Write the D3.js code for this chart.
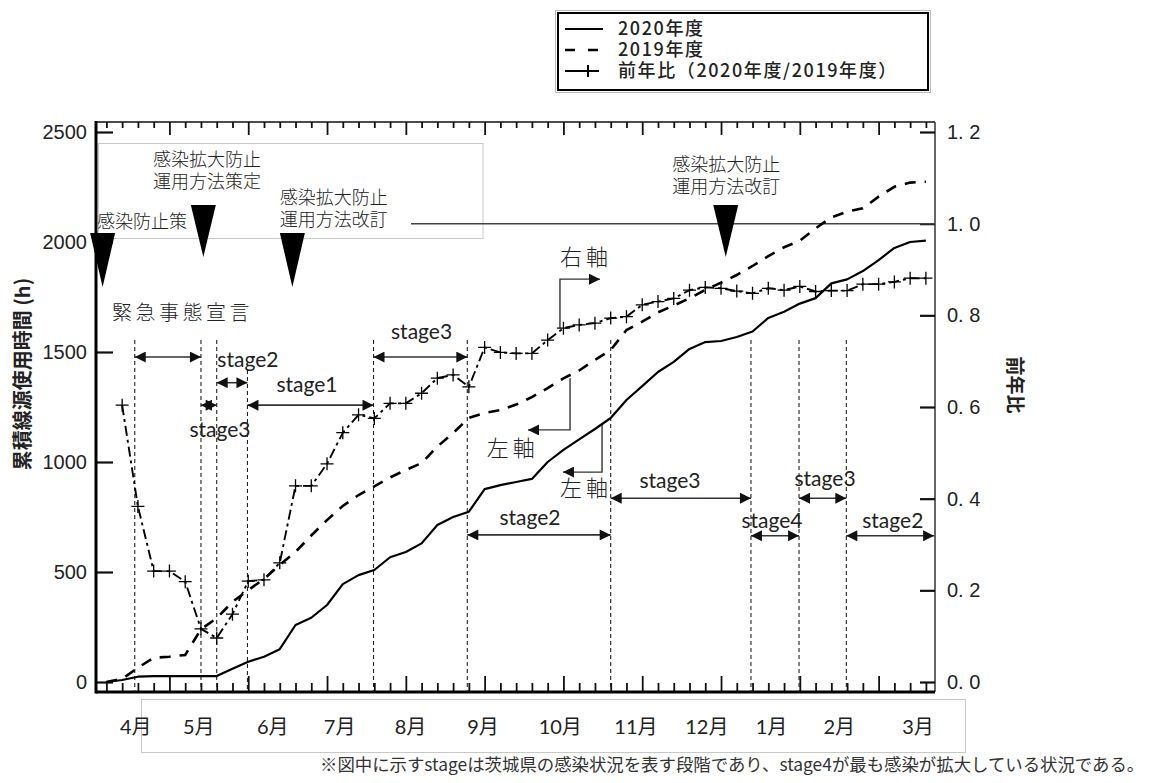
<!DOCTYPE html>
<html><head><meta charset="utf-8">
<script src="https://cdn.jsdelivr.net/npm/d3@7"></script>
<style>
body{margin:0;background:#fff;}
svg{display:block;}
text{font-family:"Noto Sans CJK JP","Noto Sans",sans-serif;fill:#222;}
</style></head><body>
<svg id="c" width="1164" height="783"></svg>
<script>
// ---------------- data ----------------
const weeks = d3.range(0, 53); // week index from April 1st week
const fy2020 = [0, 9, 24, 27, 27, 27, 27, 27, 60, 92, 115, 149, 259, 292, 350, 445, 486, 509, 567, 591,
  630, 714, 750, 774, 877, 895, 909, 923, 1000, 1055, 1103, 1150, 1200, 1282, 1345, 1409, 1455, 1514,
  1545, 1550, 1568, 1593, 1655, 1683, 1720, 1745, 1812, 1830, 1868, 1918, 1973, 2000, 2006];
const fy2019 = [0, 14, 65, 110, 115, 123, 240, 290, 364, 418, 468, 532, 591, 666, 736, 800, 850, 889, 930,
  964, 995, 1070, 1132, 1200, 1223, 1236, 1261, 1295, 1336, 1380, 1416, 1464, 1509, 1600, 1638, 1680,
  1711, 1744, 1782, 1815, 1850, 1891, 1936, 1976, 2006, 2062, 2112, 2138, 2153, 2206, 2251, 2270, 2274];
const ratio = [null, 0.604, 0.383, 0.242, 0.242, 0.219, 0.116, 0.096, 0.148, 0.220, 0.223, 0.260, 0.428,
  0.428, 0.476, 0.544, 0.583, 0.575, 0.608, 0.608, 0.630, 0.663, 0.670, 0.644, 0.730, 0.719, 0.717, 0.717,
  0.746, 0.772, 0.779, 0.783, 0.794, 0.797, 0.823, 0.830, 0.837, 0.855, 0.861, 0.859, 0.853, 0.848, 0.859,
  0.855, 0.863, 0.852, 0.854, 0.854, 0.868, 0.868, 0.873, 0.881, 0.881];

const leftTicks = [0, 500, 1000, 1500, 2000, 2500];
const rightTicks = [0, 0.2, 0.4, 0.6, 0.8, 1.0, 1.2];
const monthLabels = ['4月', '5月', '6月', '7月', '8月', '9月', '10月', '11月', '12月', '1月', '2月', '3月'];
const monthWeeks = [1.86, 5.86, 10.56, 14.8, 19.3, 23.9, 28.8, 33.6, 38.1, 42.2, 46.5, 51.5];

const stageBounds = [1.8, 6, 7, 8.95, 16.95, 22.9, 32, 40.9, 43.95, 46.95];
const stageLineTop = [0.746, 0.746, 0.746, 0.681, 0.746, 0.746, 0.746, 0.746, 0.746, 0.746];
const stageNames = ['', 'stage2', 'stage3', 'stage1', 'stage3', 'stage2', 'stage3', 'stage4', 'stage3', 'stage2'];
const stageFrom  = [1.8, 7, 6, 8.95, 16.95, 22.9, 32, 40.9, 43.95, 46.95];
const stageTo    = [6, 8.95, 7, 16.95, 22.9, 32, 40.9, 43.95, 46.95, 52.52];
const stageLevel = [0.709, 0.653, 0.604, 0.604, 0.709, 0.321, 0.401, 0.319, 0.401, 0.319];
const stageLabelWeek  = [0, 8.98, 7.21, 12.73, 20.0, 26.88, 35.76, 42.23, 45.6, 49.9];
const stageLabelLevel = [0, 0.703, 0.550, 0.648, 0.764, 0.358, 0.439, 0.353, 0.443, 0.351];

const eventWeek = [-0.24, 6.15, 11.8, 39.3];
const eventTip = [1795, 1932, 1795, 1932];
const eventTop = [2041, 2168, 2041, 2168];
const eventText = [['感染防止策'], ['感染拡大防止', '運用方法策定'], ['感染拡大防止', '運用方法改訂'], ['感染拡大防止', '運用方法改訂']];
const eventTextWeek = [-0.59, 2.96, 11.0, 35.9];
const eventTextLevel = [2091, 2373, 2200, 2350];

const legendLabels = ['2020年度', '2019年度', '前年比（2020年度/2019年度）'];

// ---------------- scales ----------------
const svg = d3.select('#c');
const L = 96, R = 935, T = 122, B = 692;
const x = d3.scaleLinear().domain([0, 52]).range([106.4, 925.9]);
const yL = d3.scaleLinear().domain([0, 2500]).range([682, 132]);
const yR = d3.scaleLinear().domain([0, 1.2]).range([682, 132]);

const defs = svg.append('defs');
defs.append('marker').attr('id', 'ah').attr('viewBox', '0 0 10 10').attr('refX', 10).attr('refY', 5)
  .attr('markerWidth', 12).attr('markerHeight', 11).attr('markerUnits', 'userSpaceOnUse')
  .attr('orient', 'auto-start-reverse')
  .append('path').attr('d', 'M0,0L10,5L0,10Z').attr('fill', '#111');

// ---------------- decorative boxes ----------------
svg.append('rect').attr('x', 98.5).attr('y', 143.5).attr('width', 384.5).attr('height', 95)
  .attr('fill', 'none').attr('stroke', '#c8c8c8').attr('stroke-width', 1);
svg.append('rect').attr('x', 141.5).attr('y', 699.5).attr('width', 824).attr('height', 53)
  .attr('fill', 'none').attr('stroke', '#c8c8c8').attr('stroke-width', 1);

// ---------------- legend ----------------
const lg = svg.append('g');
lg.append('rect').attr('x', 555.5).attr('y', 10.5).attr('width', 375).attr('height', 82)
  .attr('fill', 'none').attr('stroke', '#bbb').attr('stroke-width', 1);
lg.append('rect').attr('x', 558).attr('y', 13).attr('width', 370).attr('height', 77)
  .attr('fill', '#fff').attr('stroke', '#000').attr('stroke-width', 2);
const legY = [29, 50, 71];
lg.append('line').attr('x1', 565).attr('x2', 603).attr('y1', legY[0]).attr('y2', legY[0]).attr('stroke', '#000').attr('stroke-width', 2);
lg.append('line').attr('x1', 565).attr('x2', 600).attr('y1', legY[1]).attr('y2', legY[1]).attr('stroke', '#000').attr('stroke-width', 2.5).attr('stroke-dasharray', '10,13');
lg.append('path').attr('d', `M565,${legY[2]}H583M588,${legY[2]-6}V${legY[2]+6}M582,${legY[2]}H594M594,${legY[2]}H599`)
  .attr('stroke', '#000').attr('stroke-width', 2).attr('fill', 'none');
lg.selectAll('text.leg').data(legendLabels).join('text').attr('class', 'leg')
  .attr('x', 618).attr('y', (d, i) => legY[i]).attr('dy', '0.36em')
  .style('font-size', '18px').style('letter-spacing', '1.6px').style('font-weight', 500).text(d => d);

// ---------------- frame & axes ----------------
svg.append('line').attr('x1', L).attr('x2', R).attr('y1', T).attr('y2', T).attr('stroke', '#111').attr('stroke-width', 1.5);
svg.append('line').attr('x1', R).attr('x2', R).attr('y1', T).attr('y2', B).attr('stroke', '#333').attr('stroke-width', 1.5);

const minorW = weeks.filter(k => (k - 4) % 5 !== 0);
const majorW = weeks.filter(k => (k - 4) % 5 === 0);
function tickAxis(axis, y) {
  const g = svg.append('g').attr('transform', `translate(0,${y})`).call(axis);
  g.select('.domain').remove();
  g.selectAll('line').attr('stroke', '#111').attr('stroke-width', 1.8);
  g.selectAll('text').remove();
  return g;
}
tickAxis(d3.axisBottom(x).tickValues(minorW).tickSizeInner(-9).tickSizeOuter(0), B);
tickAxis(d3.axisBottom(x).tickValues(majorW).tickSizeInner(-16).tickSizeOuter(0), B);
tickAxis(d3.axisTop(x).tickValues(minorW).tickSizeInner(-6).tickSizeOuter(0), T);
tickAxis(d3.axisTop(x).tickValues(majorW).tickSizeInner(-13).tickSizeOuter(0), T);

const gl = svg.append('g').attr('transform', `translate(${L},0)`)
  .call(d3.axisLeft(yL).tickValues(leftTicks).tickFormat(d3.format('d')).tickSizeInner(-17).tickSizeOuter(0).tickPadding(9));
gl.select('.domain').remove();
gl.selectAll('line').attr('stroke', '#111').attr('stroke-width', 2.2);
gl.selectAll('text').style('font-family', '"Liberation Sans",Arial,sans-serif').style('font-size', '20px').attr('fill', '#222');

const gr = svg.append('g').attr('transform', `translate(${R},0)`)
  .call(d3.axisRight(yR).tickValues(rightTicks).tickSizeInner(-15).tickSizeOuter(0).tickPadding(12)
    .tickFormat(d => d.toFixed(1).replace('.', '. ')));
gr.select('.domain').remove();
gr.selectAll('line').attr('stroke', '#111').attr('stroke-width', 2.2);
gr.selectAll('text').style('font-family', '"Liberation Sans",Arial,sans-serif').style('font-size', '20px').attr('fill', '#222')
  .style('white-space', 'pre');

svg.append('line').attr('x1', L).attr('x2', L).attr('y1', T - 1).attr('y2', B + 1.5).attr('stroke', '#000').attr('stroke-width', 3);
svg.append('line').attr('x1', L).attr('x2', R).attr('y1', B).attr('y2', B).attr('stroke', '#000').attr('stroke-width', 3);

// 1.0 reference line
svg.append('line').attr('x1', 411).attr('x2', R).attr('y1', yR(1.0)).attr('y2', yR(1.0)).attr('stroke', '#444').attr('stroke-width', 1.5);

// month labels
svg.selectAll('text.month').data(monthLabels).join('text').attr('class', 'month')
  .attr('x', (d, i) => x(monthWeeks[i])).attr('y', 727).attr('dy', '0.36em').attr('text-anchor', 'middle')
  .style('font-family', 'Lato,"Noto Sans CJK JP",sans-serif').style('font-size', '20px').text(d => d);

// axis titles
svg.append('text').attr('transform', 'translate(23,374) rotate(-90)').attr('text-anchor', 'middle').attr('dy', '0.36em')
  .style('font-size', '20px').style('font-weight', 700).text('累積線源使用時間 (h)');
svg.append('text').attr('transform', 'translate(1015,385) rotate(90)').attr('text-anchor', 'middle').attr('dy', '0.36em')
  .style('font-size', '19px').style('font-weight', 700).text('前年比');

// ---------------- stage lines & arrows ----------------
svg.selectAll('line.stage').data(stageBounds).join('line').attr('class', 'stage')
  .attr('x1', d => x(d)).attr('x2', d => x(d)).attr('y1', (d, i) => yR(stageLineTop[i])).attr('y2', B)
  .attr('stroke', '#222').attr('stroke-width', 1.1).attr('stroke-dasharray', '4,3');

svg.selectAll('line.arrow').data(stageNames).join('line').attr('class', 'arrow')
  .attr('x1', (d, i) => x(stageFrom[i])).attr('x2', (d, i) => x(stageTo[i]))
  .attr('y1', (d, i) => yR(stageLevel[i])).attr('y2', (d, i) => yR(stageLevel[i]))
  .attr('stroke', '#333').attr('stroke-width', 1.6)
  .attr('marker-start', 'url(#ah)').attr('marker-end', 'url(#ah)');

svg.selectAll('text.stg').data(stageNames.filter(s => s)).join('text').attr('class', 'stg')
  .attr('x', (d, i) => x(stageLabelWeek[i + 1])).attr('y', (d, i) => yR(stageLabelLevel[i + 1])).attr('dy', '0.35em')
  .attr('text-anchor', 'middle').style('font-family', 'Lato,"Open Sans",sans-serif').style('font-size', '21px').text(d => d);

svg.append('text').attr('x', 112).attr('y', 313).attr('dy', '0.36em').style('font-size', '20px')
  .style('letter-spacing', '3.5px').style('font-weight', 300).text('緊急事態宣言');

// ---------------- event triangles ----------------
svg.selectAll('path.evt').data(eventWeek).join('path').attr('class', 'evt')
  .attr('d', (d, i) => `M${x(d) - 12.5},${yL(eventTop[i])}L${x(d) + 12.5},${yL(eventTop[i])}L${x(d)},${yL(eventTip[i])}Z`)
  .attr('fill', '#000');
eventText.forEach((lines, i) => {
  lines.forEach((ln, j) => {
    svg.append('text').attr('x', x(eventTextWeek[i])).attr('y', yL(eventTextLevel[i]) + j * 22).attr('dy', '0.36em')
      .style('font-size', '18px').style('font-weight', 300).text(ln);
  });
});

// ---------------- callouts ----------------
const callouts = [
  {t: '右軸', pts: [[28.78, 0.772], [28.78, 0.879], [31.32, 0.879]], tx: 28.78, ty: 0.927},
  {t: '左軸', pts: [[29.42, 0.663], [29.42, 0.550], [26.75, 0.550]], tx: 24.14, ty: 0.511},
  {t: '左軸', pts: [[31.45, 0.561], [31.45, 0.458], [28.97, 0.458]], tx: 28.78, ty: 0.423}
];
const cl = d3.line().x(p => x(p[0])).y(p => yR(p[1]));
callouts.forEach(c => {
  svg.append('path').attr('d', cl(c.pts)).attr('fill', 'none').attr('stroke', '#333').attr('stroke-width', 1.4)
    .attr('marker-end', 'url(#ah)');
  svg.append('text').attr('x', x(c.tx)).attr('y', yR(c.ty)).attr('dy', '0.36em')
    .style('font-size', '22px').style('letter-spacing', '4px').style('font-weight', 300).text(c.t);
});

// ---------------- series ----------------
const line2020 = d3.line().x((d, i) => x(weeks[i])).y(d => yL(d));
svg.append('path').attr('d', line2020(fy2020)).attr('fill', 'none').attr('stroke', '#000').attr('stroke-width', 2.2).attr('stroke-linejoin', 'round');
svg.append('path').attr('d', line2020(fy2019)).attr('fill', 'none').attr('stroke', '#000').attr('stroke-width', 2.6)
  .attr('stroke-dasharray', '11,9');
const lineR = d3.line().defined(d => d != null).x((d, i) => x(weeks[i])).y(d => yR(d));
svg.append('path').attr('d', lineR(ratio)).attr('fill', 'none').attr('stroke', '#000').attr('stroke-width', 1.9)
  .attr('stroke-dasharray', '10,4,3,4');
svg.selectAll('path.plus').data(ratio.map((v, i) => ({v, k: weeks[i]})).filter(d => d.v != null)).join('path')
  .attr('class', 'plus')
  .attr('transform', d => `translate(${x(d.k)},${yR(d.v)})`)
  .attr('d', 'M-6.5,0H6.5M0,-6.5V6.5').attr('stroke', '#000').attr('stroke-width', 1.3);

// ---------------- footnote ----------------
svg.append('text').attr('x', 320).attr('y', 765).attr('dy', '0.36em').style('font-size', '17.4px')
  .style('fill', '#333')
  .text('※図中に示すstageは茨城県の感染状況を表す段階であり、stage4が最も感染が拡大している状況である。');
</script>
</body></html>
